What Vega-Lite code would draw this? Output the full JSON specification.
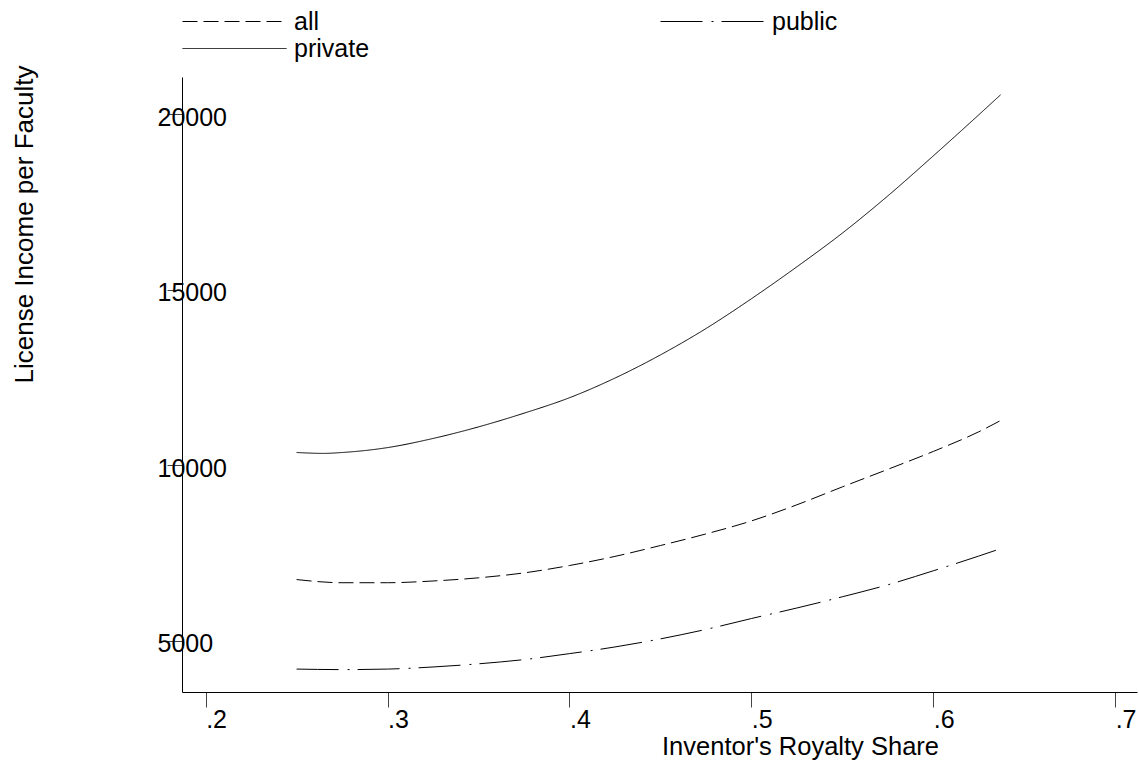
{
  "$schema": "https://vega.github.io/schema/vega-lite/v6.json",
  "width": 955,
  "height": 615,
  "autosize": "none",
  "padding": {"left": 182, "top": 77, "right": 2, "bottom": 70},
  "background": "white",
  "config": {"view": {"stroke": null}, "font": "Liberation Sans"},
  "data": {"values": [
    {"group": "all", "share": 0.25, "income": 6750},
    {"group": "all", "share": 0.275, "income": 6660},
    {"group": "all", "share": 0.30, "income": 6660},
    {"group": "all", "share": 0.325, "income": 6710},
    {"group": "all", "share": 0.35, "income": 6800},
    {"group": "all", "share": 0.375, "income": 6940},
    {"group": "all", "share": 0.40, "income": 7150},
    {"group": "all", "share": 0.425, "income": 7410},
    {"group": "all", "share": 0.45, "income": 7720},
    {"group": "all", "share": 0.475, "income": 8050},
    {"group": "all", "share": 0.50, "income": 8420},
    {"group": "all", "share": 0.525, "income": 8880},
    {"group": "all", "share": 0.55, "income": 9390},
    {"group": "all", "share": 0.575, "income": 9890},
    {"group": "all", "share": 0.60, "income": 10400},
    {"group": "all", "share": 0.625, "income": 10960},
    {"group": "all", "share": 0.637, "income": 11280},
    {"group": "public", "share": 0.25, "income": 4200},
    {"group": "public", "share": 0.275, "income": 4185},
    {"group": "public", "share": 0.30, "income": 4200},
    {"group": "public", "share": 0.325, "income": 4260},
    {"group": "public", "share": 0.35, "income": 4350},
    {"group": "public", "share": 0.375, "income": 4470},
    {"group": "public", "share": 0.40, "income": 4640},
    {"group": "public", "share": 0.425, "income": 4830},
    {"group": "public", "share": 0.45, "income": 5060},
    {"group": "public", "share": 0.475, "income": 5330},
    {"group": "public", "share": 0.50, "income": 5640},
    {"group": "public", "share": 0.525, "income": 5940},
    {"group": "public", "share": 0.55, "income": 6260},
    {"group": "public", "share": 0.575, "income": 6600},
    {"group": "public", "share": 0.60, "income": 7000},
    {"group": "public", "share": 0.625, "income": 7420},
    {"group": "public", "share": 0.637, "income": 7630},
    {"group": "private", "share": 0.25, "income": 10370},
    {"group": "private", "share": 0.265, "income": 10345},
    {"group": "private", "share": 0.275, "income": 10370},
    {"group": "private", "share": 0.30, "income": 10510},
    {"group": "private", "share": 0.325, "income": 10770},
    {"group": "private", "share": 0.35, "income": 11100},
    {"group": "private", "share": 0.375, "income": 11490},
    {"group": "private", "share": 0.40, "income": 11930},
    {"group": "private", "share": 0.425, "income": 12490},
    {"group": "private", "share": 0.45, "income": 13150},
    {"group": "private", "share": 0.475, "income": 13900},
    {"group": "private", "share": 0.50, "income": 14750},
    {"group": "private", "share": 0.525, "income": 15660},
    {"group": "private", "share": 0.55, "income": 16620},
    {"group": "private", "share": 0.575, "income": 17680},
    {"group": "private", "share": 0.60, "income": 18820},
    {"group": "private", "share": 0.625, "income": 19990},
    {"group": "private", "share": 0.637, "income": 20560}
  ]},
  "mark": {"type": "line", "color": "black", "strokeWidth": 1, "interpolate": "monotone", "clip": false},
  "encoding": {
    "x": {
      "field": "share", "type": "quantitative",
      "scale": {"domain": [0.187, 0.712], "nice": false, "zero": false},
      "axis": {
        "values": [0.2, 0.3, 0.4, 0.5, 0.6, 0.7],
        "labelExpr": "replace(format(datum.value, '.1f'), '0.', '.')",
        "grid": false, "domainColor": "black", "domainWidth": 1,
        "tickColor": "#444", "tickSize": 15, "tickWidth": 1,
        "labelAlign": "left", "labelBaseline": "alphabetic", "labelPadding": 20,
        "labelFontSize": 25, "labelColor": "black", "labelFlush": false, "labelOverlap": false,
        "title": "Inventor's Royalty Share", "titleFontSize": 25.5, "titleFontWeight": "normal", "titleColor": "black",
        "titleX": 618, "titleY": 62, "titleAlign": "center", "titleBaseline": "alphabetic", "titleAnchor": null
      }
    },
    "y": {
      "field": "income", "type": "quantitative",
      "scale": {"domain": [3547, 21068], "nice": false, "zero": false},
      "axis": {
        "values": [5000, 10000, 15000, 20000], "format": "d",
        "grid": false, "domainColor": "black", "domainWidth": 1,
        "tickColor": "#444", "tickSize": 15, "tickWidth": 1,
        "labelAlign": "left", "labelBaseline": "middle", "labelPadding": 10, "labelOffset": 3,
        "labelFontSize": 25, "labelColor": "black", "labelFlush": false, "labelOverlap": false,
        "title": "License Income per Faculty", "titleFontSize": 26, "titleFontWeight": "normal", "titleColor": "black",
        "titleX": -150, "titleY": 147, "titleAngle": -90, "titleAlign": "center", "titleBaseline": "alphabetic", "titleAnchor": null
      }
    },
    "strokeDash": {
      "field": "group", "type": "nominal",
      "sort": ["all", "public", "private"],
      "scale": {"domain": ["all", "public", "private"], "range": [[15, 6], [42, 9, 2, 8], [1, 0]]},
      "legend": {
        "orient": "none", "legendX": 0, "legendY": -69, "columns": 2, "direction": "horizontal", "title": null,
        "symbolType": "stroke", "symbolSize": 10816, "symbolStrokeWidth": 1, "symbolStrokeColor": "black",
        "clipHeight": 27,
        "labelFontSize": 25, "labelColor": "black", "labelOffset": 7,
        "columnPadding": 290, "rowPadding": 0, "padding": 0
      }
    }
  }
}
